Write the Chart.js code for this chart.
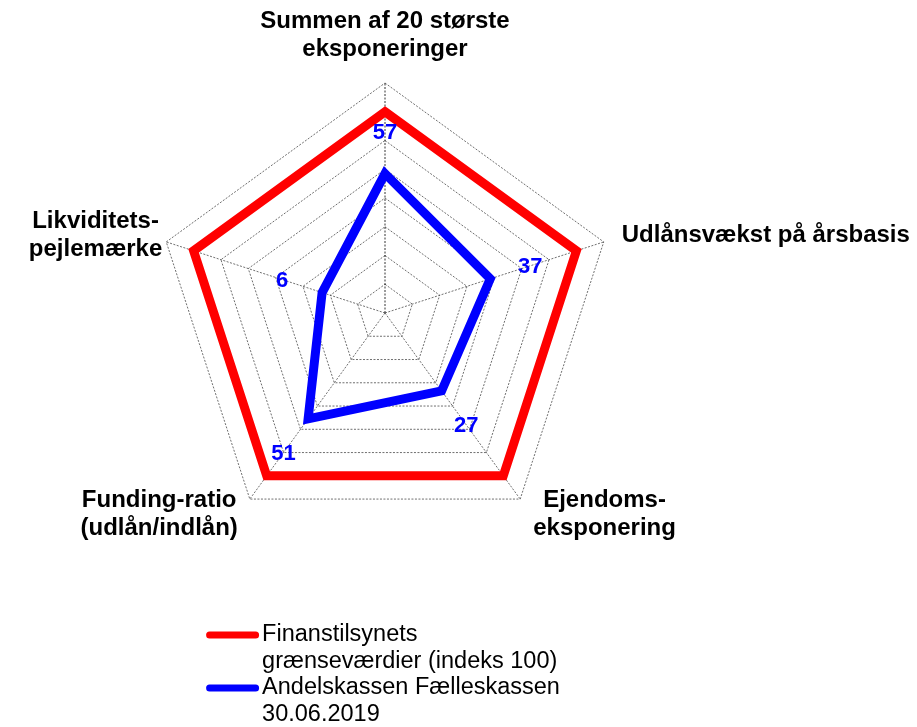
<!DOCTYPE html>
<html>
<head>
<meta charset="utf-8">
<script src="https://cdn.jsdelivr.net/npm/chart.js@4"></script>
<style>
  html, body { margin: 0; padding: 0; background: #fff; }
  #wrap { width: 917px; height: 727px; }
</style>
</head>
<body>
<div id="wrap"><canvas id="radarChart"></canvas></div>
<script>
const categories = [
  ['Summen af 20 største', 'eksponeringer'],
  ['Udlånsvækst på årsbasis'],
  ['Ejendoms-', 'eksponering'],
  ['Funding-ratio', '(udlån/indlån)'],
  ['Likviditets-', 'pejlemærke']
];
const limitValues = [100, 100, 100, 100, 100];
const bankValues = [57, 37, 27, 51, 6];
const seriesNames = [
  ['Finanstilsynets', 'grænseværdier (indeks 100)'],
  ['Andelskassen Fælleskassen', '30.06.2019']
];
const scaleMin = -40;
const scaleMax = 120;
const scaleStep = 20;

const FONT = '"Liberation Sans", Arial, Helvetica, sans-serif';

// axis titles, drawn around the pentagon corners
const axisTitles = {
  id: 'axisTitles',
  afterDraw(chart) {
    const scale = chart.scales.r;
    const ctx = chart.ctx;
    const lh = 28;
    ctx.save();
    ctx.font = 'bold 24px ' + FONT;
    ctx.fillStyle = '#000';
    ctx.textAlign = 'center';
    ctx.textBaseline = 'middle';
    categories.forEach((lines, i) => {
      const v = scale.getPointPosition(i, scale.drawingArea);
      const dx = v.x - scale.xCenter;
      const dy = v.y - scale.yCenter;
      const w = Math.max(...lines.map(l => ctx.measureText(l).width));
      const h = lines.length * lh;
      let cx, top;
      if (Math.abs(dx) < 1) {
        cx = v.x;
        top = v.y - 48 - h / 2;
      } else if (dy < 0) {
        cx = dx > 0 ? v.x + 18 + w / 2 : v.x - 4 - w / 2;
        top = v.y - 7 - h / 2;
      } else {
        cx = dx > 0 ? v.x + 13 + w / 2 : v.x - 12 - w / 2;
        top = v.y + 1 - lh / 2;
      }
      lines.forEach((l, k) => ctx.fillText(l, cx, top + lh / 2 + k * lh));
    });
    ctx.restore();
  }
};

// blue value numbers just outside the blue line
const valueLabels = {
  id: 'valueLabels',
  afterDatasetsDraw(chart) {
    const scale = chart.scales.r;
    const ctx = chart.ctx;
    ctx.save();
    ctx.font = 'bold 22px ' + FONT;
    ctx.fillStyle = '#0000ff';
    ctx.textAlign = 'center';
    ctx.textBaseline = 'middle';
    bankValues.forEach((v, i) => {
      const p = scale.getPointPosition(i, scale.getDistanceFromCenterForValue(v) + 42);
      ctx.fillText(String(v), p.x, p.y + 1);
    });
    ctx.restore();
  }
};

// legend stacked under the chart
const stackedLegend = {
  id: 'stackedLegend',
  afterDraw(chart) {
    const scale = chart.scales.r;
    const ctx = chart.ctx;
    const lh = 26.5;
    const lineLen = 53;
    ctx.save();
    ctx.font = '23.5px ' + FONT;
    const textW = Math.max(...seriesNames.flat().map(t => ctx.measureText(t).width));
    const x0 = scale.xCenter - (lineLen + 3 + textW) / 2 - 2;
    let y = chart.chartArea.bottom + 92;
    chart.data.datasets.forEach((ds) => {
      ctx.strokeStyle = ds.borderColor;
      ctx.lineWidth = 7;
      ctx.lineCap = 'round';
      ctx.beginPath();
      ctx.moveTo(x0 + 3.5, y);
      ctx.lineTo(x0 + lineLen - 3.5, y);
      ctx.stroke();
      ctx.fillStyle = '#000';
      ctx.textAlign = 'left';
      ctx.textBaseline = 'middle';
      ds.label.forEach((t, k) => ctx.fillText(t, x0 + lineLen + 3, y + k * lh));
      y += ds.label.length * lh;
    });
    ctx.restore();
  }
};

const ctx = document.getElementById('radarChart').getContext('2d');

const radarChart = new Chart(ctx, {
  type: 'radar',
  data: {
    labels: categories,
    datasets: [
      {
        label: seriesNames[0],
        data: limitValues,
        borderColor: '#ff0000',
        backgroundColor: 'transparent',
        borderWidth: 9,
        borderJoinStyle: 'miter',
        pointRadius: 0,
        fill: false,
      },
      {
        label: seriesNames[1],
        data: bankValues,
        borderColor: '#0000ff',
        backgroundColor: 'transparent',
        borderWidth: 9,
        borderJoinStyle: 'miter',
        pointRadius: 0,
        fill: false,
      },
    ],
  },
  options: {
    responsive: true,
    maintainAspectRatio: false,
    animation: false,
    layout: {
      padding: { left: 155, right: 302, top: 83, bottom: 184 },
    },
    plugins: {
      legend: { display: false },
      tooltip: { enabled: false },
    },
    scales: {
      r: {
        min: scaleMin,
        max: scaleMax,
        ticks: { stepSize: scaleStep, display: false },
        pointLabels: { display: false },
        grid: { color: '#4a4a4a', lineWidth: 0.8 },
        border: { dash: [2, 1.5] },
        angleLines: {
          color: c => c.index === 0 ? '#000' : '#4a4a4a',
          lineWidth: 0.8,
          borderDash: [2, 1.5],
        },
      },
    },
  },
  plugins: [valueLabels, axisTitles, stackedLegend],
});
</script>
</body>
</html>
